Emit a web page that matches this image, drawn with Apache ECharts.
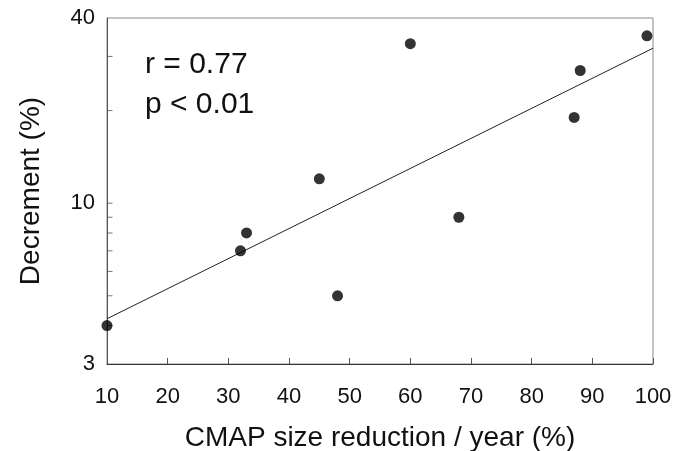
<!DOCTYPE html>
<html>
<head>
<meta charset="utf-8">
<script src="https://cdn.jsdelivr.net/npm/echarts@6/dist/echarts.min.js"></script>
<style>
  html, body { margin: 0; padding: 0; background: #fff; }
  #chart { width: 684px; height: 451px; }
</style>
</head>
<body>
<div id="chart"></div>
<script>
// CMAP size reduction per year (%) vs decrement (%)
const reduction = [10, 32, 33, 45, 48, 60, 68, 87, 88, 99];
const decrement = [4.0, 7.0, 8.0, 12, 5.0, 33, 9.0, 19, 27, 35];

// regression line end points
const fitX = [10, 100];
const fitY = [4.21, 31.9];

// minor/major tick positions on the log axis
const yTicks = [4, 5, 6, 7, 8, 9, 10, 20, 30];

const FONT = '"Liberation Sans", Arial, Helvetica, sans-serif';

const chart = echarts.init(document.getElementById('chart'), null, { renderer: 'canvas' });

chart.setOption({
  animation: false,
  grid: {
    left: 107, right: 31, top: 18, bottom: 87,
    outerBoundsMode: 'none',
    containLabel: false,
    show: true,
    borderColor: '#8a8a8a',
    borderWidth: 1,
  },
  xAxis: {
    type: 'value',
    min: 10,
    max: 100,
    interval: 10,
    name: 'CMAP size reduction / year (%)',
    nameLocation: 'middle',
    nameGap: 60,
    nameTextStyle: { color: '#111', fontSize: 28, fontFamily: FONT },
    axisLine: { show: true, lineStyle: { color: '#333', width: 1 } },
    axisTick: { show: true, inside: true, length: 6, lineStyle: { color: '#555' } },
    axisLabel: { color: '#111', fontSize: 22, fontFamily: FONT, margin: 22 },
    splitLine: { show: false },
  },
  yAxis: {
    type: 'log',
    logBase: 10,
    min: 3,
    max: 40,
    name: 'Decrement (%)',
    nameLocation: 'middle',
    nameGap: 62,
    nameTextStyle: { color: '#111', fontSize: 28, fontFamily: FONT },
    axisLine: { show: true, lineStyle: { color: '#555', width: 1 } },
    axisTick: { show: false },
    axisLabel: { color: '#111', fontSize: 22, fontFamily: FONT, margin: 12 },
    splitLine: { show: false },
  },
  graphic: [
    { type: 'text', left: 145, top: 50,
      style: { text: 'r = 0.77', fontSize: 30, fontFamily: FONT, fill: '#111' } },
    { type: 'text', left: 145, top: 90,
      style: { text: 'p < 0.01', fontSize: 30, fontFamily: FONT, fill: '#111' } },
  ],
  series: [
    {
      // short inward ticks along the left axis
      type: 'scatter',
      data: yTicks.map(v => [10, v]),
      symbol: 'rect',
      symbolSize: [5, 1],
      symbolOffset: [3, 0],
      itemStyle: { color: '#555' },
      silent: true,
      clip: false,
      z: 1,
    },
    {
      type: 'line',
      data: fitX.map((x, i) => [x, fitY[i]]),
      symbol: 'none',
      lineStyle: { color: '#222', width: 1 },
      silent: true,
      z: 2,
    },
    {
      type: 'scatter',
      data: reduction.map((x, i) => [x, decrement[i]]),
      symbol: 'circle',
      symbolSize: 11,
      itemStyle: { color: '#000' },
      z: 3,
    },
  ],
});
</script>
</body>
</html>
